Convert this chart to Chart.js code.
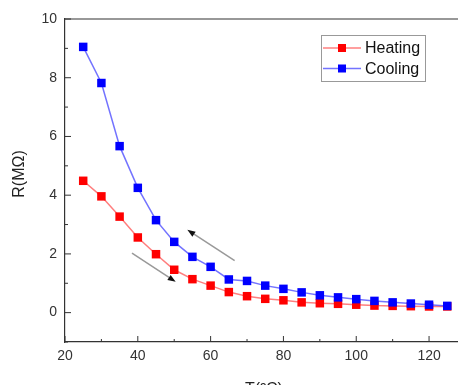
<!DOCTYPE html>
<html>
<head>
<meta charset="utf-8">
<script src="https://cdn.jsdelivr.net/npm/chart.js@4"></script>
<style>
  html, body { margin: 0; padding: 0; background: #fff; overflow: hidden; }
  #wrap { width: 466px; height: 385px; }
</style>
</head>
<body>
<div id="wrap"><canvas id="chart" width="466" height="385"></canvas></div>
<script>
// data
const temps = [25, 30, 35, 40, 45, 50, 55, 60, 65, 70, 75, 80, 85, 90, 95, 100, 105, 110, 115, 120, 125];
const heating = [4.49, 3.96, 3.27, 2.56, 1.99, 1.46, 1.14, 0.92, 0.70, 0.56, 0.47, 0.42, 0.35, 0.32, 0.30, 0.27, 0.24, 0.23, 0.22, 0.21, 0.21];
const cooling = [9.05, 7.82, 5.67, 4.25, 3.15, 2.41, 1.90, 1.56, 1.13, 1.08, 0.92, 0.81, 0.69, 0.59, 0.52, 0.46, 0.40, 0.35, 0.31, 0.27, 0.23];
const xTicks = [20, 40, 60, 80, 100, 120];
const xMinor = [30, 50, 70, 90, 110];
const yTicks = [0, 2, 4, 6, 8, 10];
const yMinor = [-1, 1, 3, 5, 7, 9];
// direction arrows, [tail, head] in data units
const arrows = [
    [[38.4, 2.03], [50.4, 1.05]],
    [[66.6, 1.77], [53.6, 2.82]]
];
const seriesNames = ["Heating", "Cooling"];

const FONT = "'Liberation Sans', Arial, sans-serif";

const decor = {
    id: "decor",
    afterDraw(chart) {
        const ctx = chart.ctx;
        const { left, top, right, bottom } = chart.chartArea;
        const xs = chart.scales.x, ys = chart.scales.y;
        ctx.save();

        // frame top
        ctx.strokeStyle = "#333";
        ctx.lineWidth = 1.2;
        ctx.beginPath();
        ctx.moveTo(left, top);
        ctx.lineTo(right, top);
        ctx.stroke();

        // inward ticks
        ctx.lineWidth = 1;
        ctx.beginPath();
        xTicks.forEach(v => { const p = xs.getPixelForValue(v); ctx.moveTo(p, bottom); ctx.lineTo(p, bottom - 6); });
        xMinor.forEach(v => { const p = xs.getPixelForValue(v); ctx.moveTo(p, bottom); ctx.lineTo(p, bottom - 3); });
        yTicks.forEach(v => { const p = ys.getPixelForValue(v); ctx.moveTo(left, p); ctx.lineTo(left + 6, p); });
        yMinor.forEach(v => { const p = ys.getPixelForValue(v); ctx.moveTo(left, p); ctx.lineTo(left + 3, p); });
        ctx.stroke();

        // arrows
        arrows.forEach(([a, b]) => {
            const x1 = xs.getPixelForValue(a[0]), y1 = ys.getPixelForValue(a[1]);
            const x2 = xs.getPixelForValue(b[0]), y2 = ys.getPixelForValue(b[1]);
            const ang = Math.atan2(y2 - y1, x2 - x1);
            const hl = 8, hw = 3;
            ctx.strokeStyle = "#999";
            ctx.lineWidth = 1.5;
            ctx.beginPath();
            ctx.moveTo(x1, y1);
            ctx.lineTo(x2 - hl * Math.cos(ang), y2 - hl * Math.sin(ang));
            ctx.stroke();
            ctx.fillStyle = "#111";
            ctx.beginPath();
            ctx.moveTo(x2, y2);
            ctx.lineTo(x2 - hl * Math.cos(ang) + hw * Math.sin(ang), y2 - hl * Math.sin(ang) - hw * Math.cos(ang));
            ctx.lineTo(x2 - hl * Math.cos(ang) - hw * Math.sin(ang), y2 - hl * Math.sin(ang) + hw * Math.cos(ang));
            ctx.closePath();
            ctx.fill();
        });

        // legend
        const lx = 321, ly = 35, lw = 104, lh = 46;
        ctx.fillStyle = "#fff";
        ctx.fillRect(lx, ly, lw, lh);
        ctx.strokeStyle = "#999";
        ctx.lineWidth = 1;
        ctx.strokeRect(lx + 0.5, ly + 0.5, lw, lh);
        chart.data.datasets.forEach((ds, i) => {
            const cy = ly + 13 + i * 20.5;
            ctx.strokeStyle = ds.borderColor;
            ctx.lineWidth = 1.5;
            ctx.beginPath();
            ctx.moveTo(lx + 2, cy);
            ctx.lineTo(lx + 40, cy);
            ctx.stroke();
            ctx.fillStyle = ds.pointBackgroundColor;
            ctx.fillRect(lx + 21 - 4, cy - 4, 8, 8);
            ctx.fillStyle = "#111";
            ctx.font = "16px " + FONT;
            ctx.textBaseline = "middle";
            ctx.textAlign = "left";
            ctx.fillText(seriesNames[i], lx + 44, cy + 1);
        });

        // axis titles
        ctx.fillStyle = "#222";
        ctx.font = "16px " + FONT;
        ctx.textAlign = "center";
        ctx.textBaseline = "middle";
        ctx.fillText("T(ºC)", 264, 390);
        ctx.save();
        ctx.translate(20, 174);
        ctx.rotate(-Math.PI / 2);
        ctx.fillText("R(MΩ)", 0, 0);
        ctx.restore();

        ctx.restore();
    }
};

new Chart(document.getElementById("chart"), {
    type: "line",
    data: {
        labels: temps,
        datasets: [
            {
                label: seriesNames[0],
                data: temps.map((t, i) => ({ x: t, y: heating[i] })),
                borderColor: "rgba(255,40,40,0.6)",
                borderWidth: 1.5,
                pointStyle: "rect",
                pointRadius: 6,
                pointBorderWidth: 0,
                pointBackgroundColor: "#ff0000",
                pointBorderColor: "#ff0000",
                order: 1
            },
            {
                label: seriesNames[1],
                data: temps.map((t, i) => ({ x: t, y: cooling[i] })),
                borderColor: "rgba(40,40,255,0.65)",
                borderWidth: 1.5,
                pointStyle: "rect",
                pointRadius: 6,
                pointBorderWidth: 0,
                pointBackgroundColor: "#0000ff",
                pointBorderColor: "#0000ff",
                order: 0
            }
        ]
    },
    options: {
        responsive: false,
        animation: false,
        layout: { padding: { left: 0, right: 0, top: 19, bottom: 0 } },
        plugins: { legend: { display: false }, tooltip: { enabled: false } },
        scales: {
            x: {
                type: "linear",
                min: 20,
                max: 128.5,
                afterBuildTicks: s => { s.ticks = xTicks.map(v => ({ value: v })); },
                afterFit: s => { s.height = 43; },
                grid: { drawOnChartArea: false, drawTicks: false },
                border: { display: true, color: "#333", width: 1.2 },
                ticks: { padding: 6, color: "#333", font: { family: FONT, size: 14 }, maxRotation: 0 }
            },
            y: {
                min: -1,
                max: 10,
                afterBuildTicks: s => { s.ticks = yTicks.map(v => ({ value: v })); },
                afterFit: s => { s.width = 65; },
                grid: { drawOnChartArea: false, drawTicks: false },
                border: { display: true, color: "#333", width: 1.2 },
                ticks: { padding: 8, color: "#333", font: { family: FONT, size: 14 } }
            }
        }
    },
    plugins: [decor]
});
</script>
</body>
</html>
